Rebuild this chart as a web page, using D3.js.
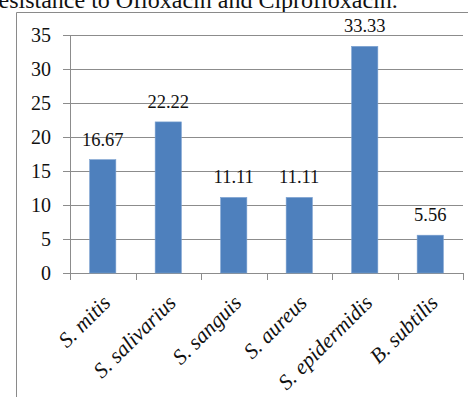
<!DOCTYPE html>
<html>
<head>
<meta charset="utf-8">
<script src="https://cdn.jsdelivr.net/npm/d3@7"></script>
</head>
<body style="margin:0">
<svg id="chart" width="468" height="397"></svg>
<script>
// Resistance percentage by organism
const categories = ["S. mitis", "S. salivarius", "S. sanguis", "S. aureus", "S. epidermidis", "B. subtilis"];
const values = [16.67, 22.22, 11.11, 11.11, 33.33, 5.56];
const yTicks = [0, 5, 10, 15, 20, 25, 30, 35];
const captionText = "esistance to Ofloxacin and Ciprofloxacin.";

const FONT = "Times New Roman";
const svg = d3.select("#chart").style("display", "block").style("font-family", `"${FONT}"`);
const W = 468, H = 397;
const plot = { left: 70, right: 463, top: 35, bottom: 273 };

function label(sel, size) {
  return sel.style("font-family", `"${FONT}"`).style("font-size", size + "px").attr("fill", "#111");
}

// Caption line above the chart frame
label(svg.append("text"), 24)
  .attr("x", -1.5).attr("y", 7.5)
  .text(captionText);

// Chart frame (left and top edges)
svg.append("path")
  .attr("d", `M16.5,${H} V12.5 H${W}`)
  .attr("fill", "none").attr("stroke", "#8a8a8a").attr("stroke-width", 1);

const x = d3.scaleBand().domain(categories).range([plot.left, plot.right]).paddingInner(0.6).paddingOuter(0.3);
const xTickScale = d3.scaleBand().domain(categories).range([plot.left, plot.right]);
const y = d3.scaleLinear().domain([0, 35]).range([plot.bottom, plot.top]);

// Horizontal gridlines with left tick marks
svg.append("g").selectAll("line").data(yTicks).join("line")
  .attr("x1", plot.left - 7).attr("x2", plot.right)
  .attr("y1", d => Math.round(y(d)) + 0.5).attr("y2", d => Math.round(y(d)) + 0.5)
  .attr("stroke", "#8c8c8c").attr("stroke-width", 1);

// Y tick labels
label(svg.append("g").selectAll("text").data(yTicks).join("text"), 20)
  .attr("x", 51).attr("y", d => y(d)).attr("dy", "0.35em")
  .attr("text-anchor", "end")
  .text(d => d);

// Vertical axis line
svg.append("line")
  .attr("x1", plot.left + 0.5).attr("x2", plot.left + 0.5)
  .attr("y1", plot.top).attr("y2", plot.bottom + 7)
  .attr("stroke", "#8c8c8c");

// Category boundary ticks below the baseline
const boundaries = categories.map(c => xTickScale(c)).concat([plot.right]);
svg.append("g").selectAll("line").data(boundaries.slice(1)).join("line")
  .attr("x1", d => Math.round(d) + 0.5).attr("x2", d => Math.round(d) + 0.5)
  .attr("y1", plot.bottom).attr("y2", plot.bottom + 7)
  .attr("stroke", "#8c8c8c");

// Bars
svg.append("g").selectAll("rect").data(values).join("rect")
  .attr("x", (d, i) => x(categories[i]))
  .attr("y", d => y(d))
  .attr("width", x.bandwidth())
  .attr("height", d => y(0) - y(d))
  .attr("fill", "#4e80bd")
  .attr("stroke", "#7aa0d0").attr("stroke-width", 0.6);

// Value labels above bars
label(svg.append("g").selectAll("text").data(values).join("text"), 18.5)
  .attr("x", (d, i) => x(categories[i]) + x.bandwidth() / 2)
  .attr("y", d => y(d) - 14)
  .attr("text-anchor", "middle")
  .text(d => d.toFixed(2));

// Rotated category labels
label(svg.append("g").selectAll("text").data(categories).join("text"), 21.5)
  .style("font-style", "italic")
  .attr("transform", c => `translate(${xTickScale(c) + xTickScale.bandwidth() / 2 + 9},${plot.bottom + 31}) rotate(-45)`)
  .attr("text-anchor", "end")
  .text(c => c);
</script>
</body>
</html>
